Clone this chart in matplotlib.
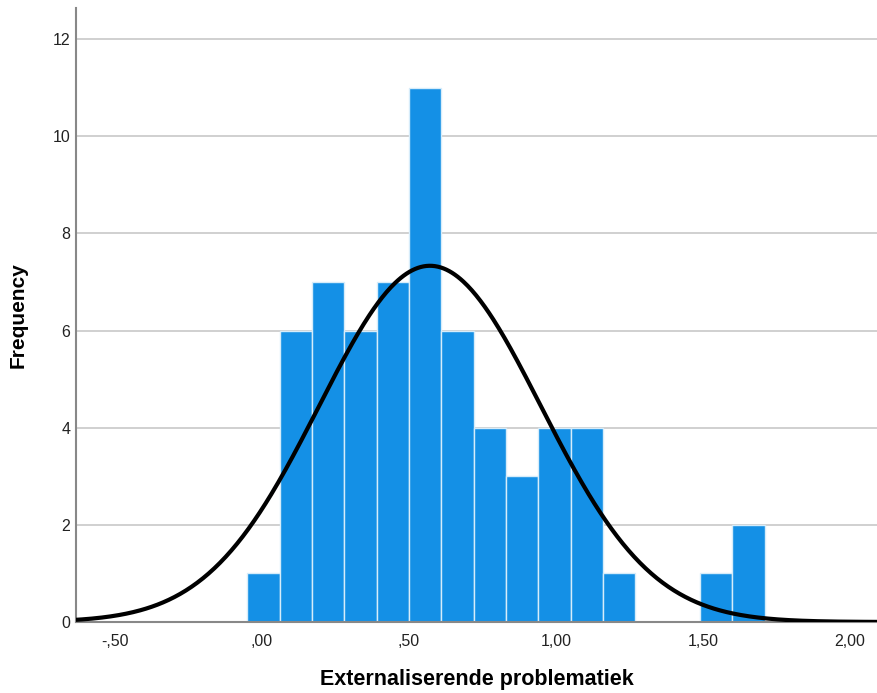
import numpy as np
import matplotlib
matplotlib.use("Agg")
import matplotlib.pyplot as plt

# Data
bin_start = -0.05
bin_width = 0.11
counts = [1, 6, 7, 6, 7, 11, 6, 4, 3, 4, 4, 1, 0, 0, 1, 2]
curve_mean = 0.571
curve_sd = 0.377
xticks = [-0.5, 0.0, 0.5, 1.0, 1.5, 2.0]
xtick_labels = ["-,50", ",00", ",50", "1,00", "1,50", "2,00"]
yticks = [0, 2, 4, 6, 8, 10, 12]

plt.rcParams['font.family'] = ['Liberation Sans', 'DejaVu Sans']

fig = plt.figure(figsize=(8.78, 6.93), dpi=100)
ax = fig.add_axes([76/878, 71/693, 1 - 76/878, (622-8)/693])

edges = bin_start + bin_width * np.arange(len(counts) + 1)
ax.bar(edges[:-1], counts, width=bin_width, align='edge',
       color='#1490E6', edgecolor='#D6ECFA', linewidth=1.0, zorder=2)

n = sum(counts)
xs = np.linspace(-0.7, 2.2, 600)
ys = n * bin_width / (curve_sd * np.sqrt(2 * np.pi)) * np.exp(-0.5 * ((xs - curve_mean) / curve_sd) ** 2)
ax.plot(xs, ys, color='black', lw=3, zorder=3, solid_capstyle='round')

ax.set_xlim(-0.633, 2.095)
ax.set_ylim(0, 12.64)
ax.set_yticks(yticks)
ax.set_yticklabels([str(v) for v in yticks])
ax.set_xticks(xticks)
ax.set_xticklabels(xtick_labels)
ax.yaxis.grid(True, color='#C8C8C8', lw=1.2, zorder=0)
ax.set_axisbelow(True)
ax.tick_params(axis='both', length=0, labelsize=11.5, colors='#222222')
ax.tick_params(axis='y', pad=4)
ax.tick_params(axis='x', pad=9)
for s in ['top', 'right']:
    ax.spines[s].set_visible(False)
for s in ['left', 'bottom']:
    ax.spines[s].set_color('#888888')
    ax.spines[s].set_linewidth(1.5)

ax.set_xlabel('Externaliserende problematiek', fontsize=15.5, fontweight='bold', labelpad=14)
ax.set_ylabel('Frequency', fontsize=15, fontweight='bold', labelpad=18)

fig.savefig('out.png', dpi=100)
